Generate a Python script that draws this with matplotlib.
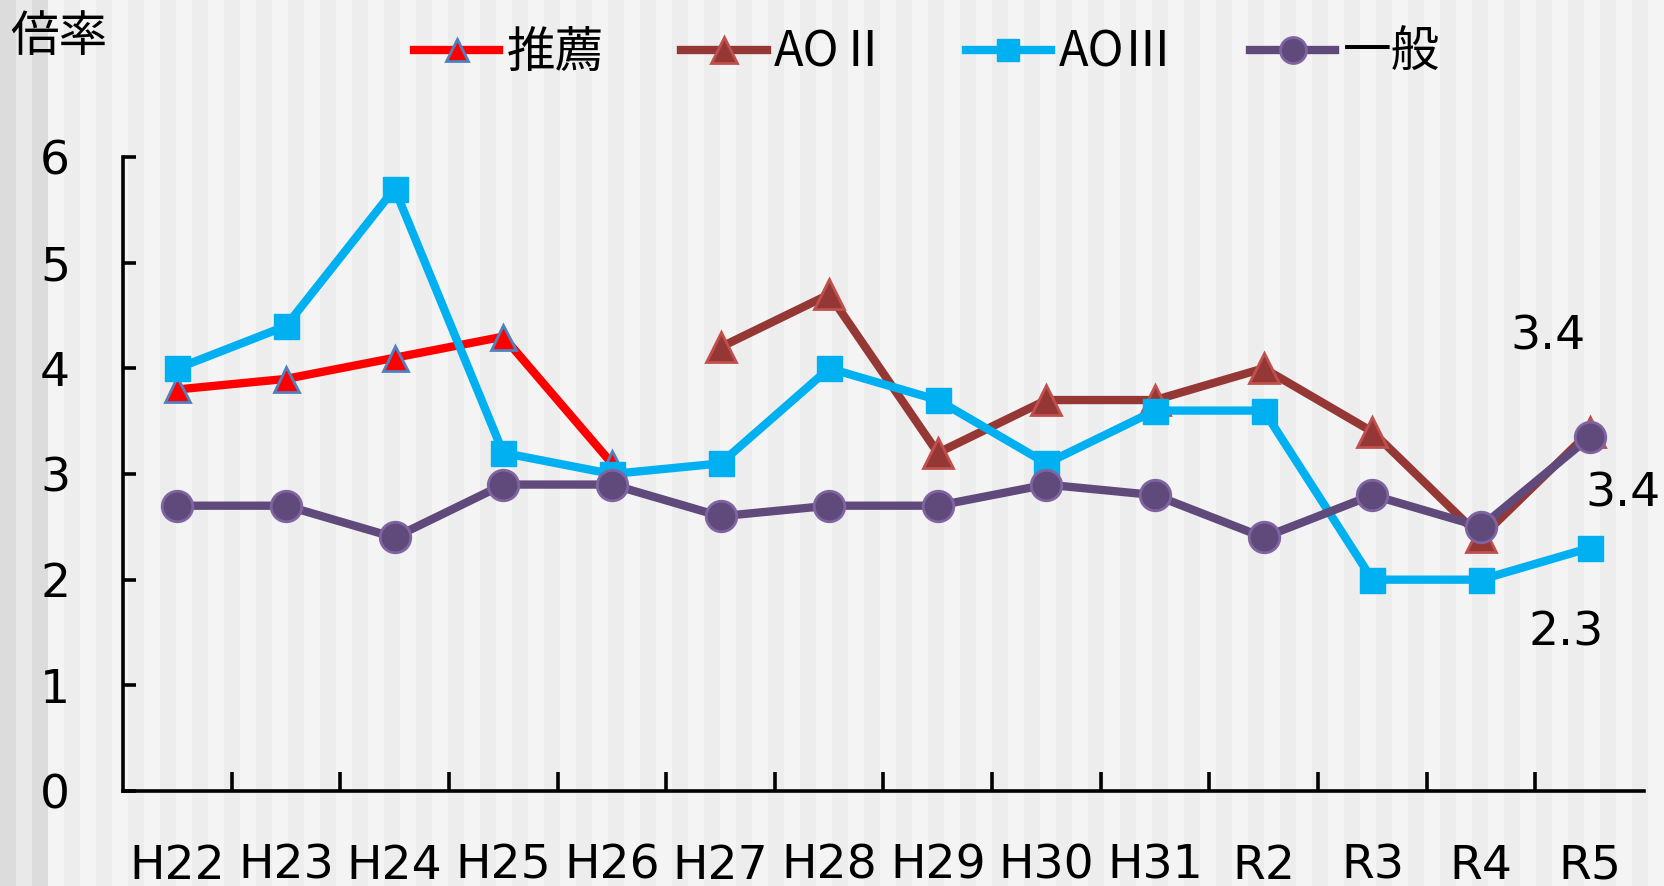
import numpy as np
import matplotlib
matplotlib.use("Agg")
import matplotlib.pyplot as plt

plt.rcParams['font.family'] = ['DejaVu Sans', 'Noto Sans CJK JP']

# ---- data ----
years = ["H22", "H23", "H24", "H25", "H26", "H27", "H28", "H29", "H30", "H31", "R2", "R3", "R4", "R5"]
suisen = [3.8, 3.9, 4.1, 4.3, 3.1, None, None, None, None, None, None, None, None, None]
ao2 = [None, None, None, None, None, 4.2, 4.7, 3.2, 3.7, 3.7, 4.0, 3.4, 2.4, 3.4]
ao3 = [4.0, 4.4, 5.7, 3.2, 3.0, 3.1, 4.0, 3.7, 3.1, 3.6, 3.6, 2.0, 2.0, 2.3]
ippan = [2.7, 2.7, 2.4, 2.9, 2.9, 2.6, 2.7, 2.7, 2.9, 2.8, 2.4, 2.8, 2.5, 3.35]

labels = ["推薦", "AOⅡ", "AOⅢ", "一般"]
end_labels = ["3.4", "3.4", "2.3"]

#############################

W, H = 1665, 886
fig = plt.figure(figsize=(W / 100, H / 100), dpi=100)

# striped background
bg = fig.add_axes([0, 0, 1, 1], zorder=-10)
bg.set_xlim(0, W)
bg.set_ylim(0, 1)
bg.axis("off")
stripe = 16
for k, x0 in enumerate(range(0, W, stripe)):
    if k < 3:
        c = "#dcdcdc" if k % 2 == 0 else "#e9e9e9"
    else:
        c = "#ededed" if k % 2 == 0 else "#f4f4f4"
    bg.axvspan(x0, x0 + stripe, color=c, lw=0)

ax = fig.add_axes([123 / W, 1 - 791 / H, (1644 - 123) / W, (791 - 157) / H])
ax.patch.set_alpha(0)

x = np.arange(len(years))


def arr(v):
    return np.array([np.nan if a is None else a for a in v], dtype=float)


lw = 6
ax.plot(x, arr(suisen), color="#ff0000", lw=lw, marker="^", ms=18,
        mfc="#ff0000", mec="#4f81bd", mew=2, label=labels[0], zorder=3)
ax.plot(x, arr(ao2), color="#953735", lw=lw, marker="^", ms=22,
        mfc="#953735", mec="#c0504d", mew=2, label=labels[1], zorder=4)
ax.plot(x, arr(ao3), color="#00b0f0", lw=lw, marker="s", ms=18,
        mfc="#00b0f0", mec="#00b0f0", mew=1, label=labels[2], zorder=5)
ax.plot(x, arr(ippan), color="#604a7b", lw=lw, marker="o", ms=22,
        mfc="#604a7b", mec="#8064a2", mew=2, label=labels[3], zorder=6)

# end labels
fs = 34
ax.annotate(end_labels[0], xy=(x[-1], ao2[-1]), xytext=(-30, 68), textcoords="offset points",
            ha="center", va="center", fontsize=fs, annotation_clip=False)
ax.annotate(end_labels[1], xy=(x[-1], ippan[-1]), xytext=(24, -41), textcoords="offset points",
            ha="center", va="center", fontsize=fs, annotation_clip=False)
ax.annotate(end_labels[2], xy=(x[-1], ao3[-1]), xytext=(-17, -61), textcoords="offset points",
            ha="center", va="center", fontsize=fs, annotation_clip=False)

ax.set_xlim(-0.5, len(years) - 0.5)
ax.set_ylim(0, 6)
ax.set_yticks(range(0, 7))
ax.set_xticks(x)
ax.set_xticklabels(years)
ax.set_xticks(np.arange(0.5, len(years) - 1, 1), minor=True)

for s in ["top", "right"]:
    ax.spines[s].set_visible(False)
for s in ["left", "bottom"]:
    ax.spines[s].set_linewidth(2.6)
    ax.spines[s].set_color("black")

ax.tick_params(axis="y", direction="in", length=9, width=2.6, labelsize=34, pad=38)
ax.tick_params(axis="x", which="major", length=0, labelsize=34, pad=38)
ax.tick_params(axis="x", which="minor", direction="in", length=14, width=2.6)

fig.text(10 / W, 1 - 37 / H, "倍率", fontsize=35, ha="left", va="center",
         family=["Noto Sans CJK JP", "DejaVu Sans"])

handles, lbls = ax.get_legend_handles_labels()
fig.legend(handles, lbls, loc="center", bbox_to_anchor=(927 / W, 1 - 53 / H), ncol=4,
           frameon=False, prop={"family": ["Noto Sans CJK JP", "DejaVu Sans"], "size": 35},
           handlelength=1.75, handletextpad=0.15, columnspacing=1.6, markerscale=0.85)

plt.savefig("out.png", dpi=100)
